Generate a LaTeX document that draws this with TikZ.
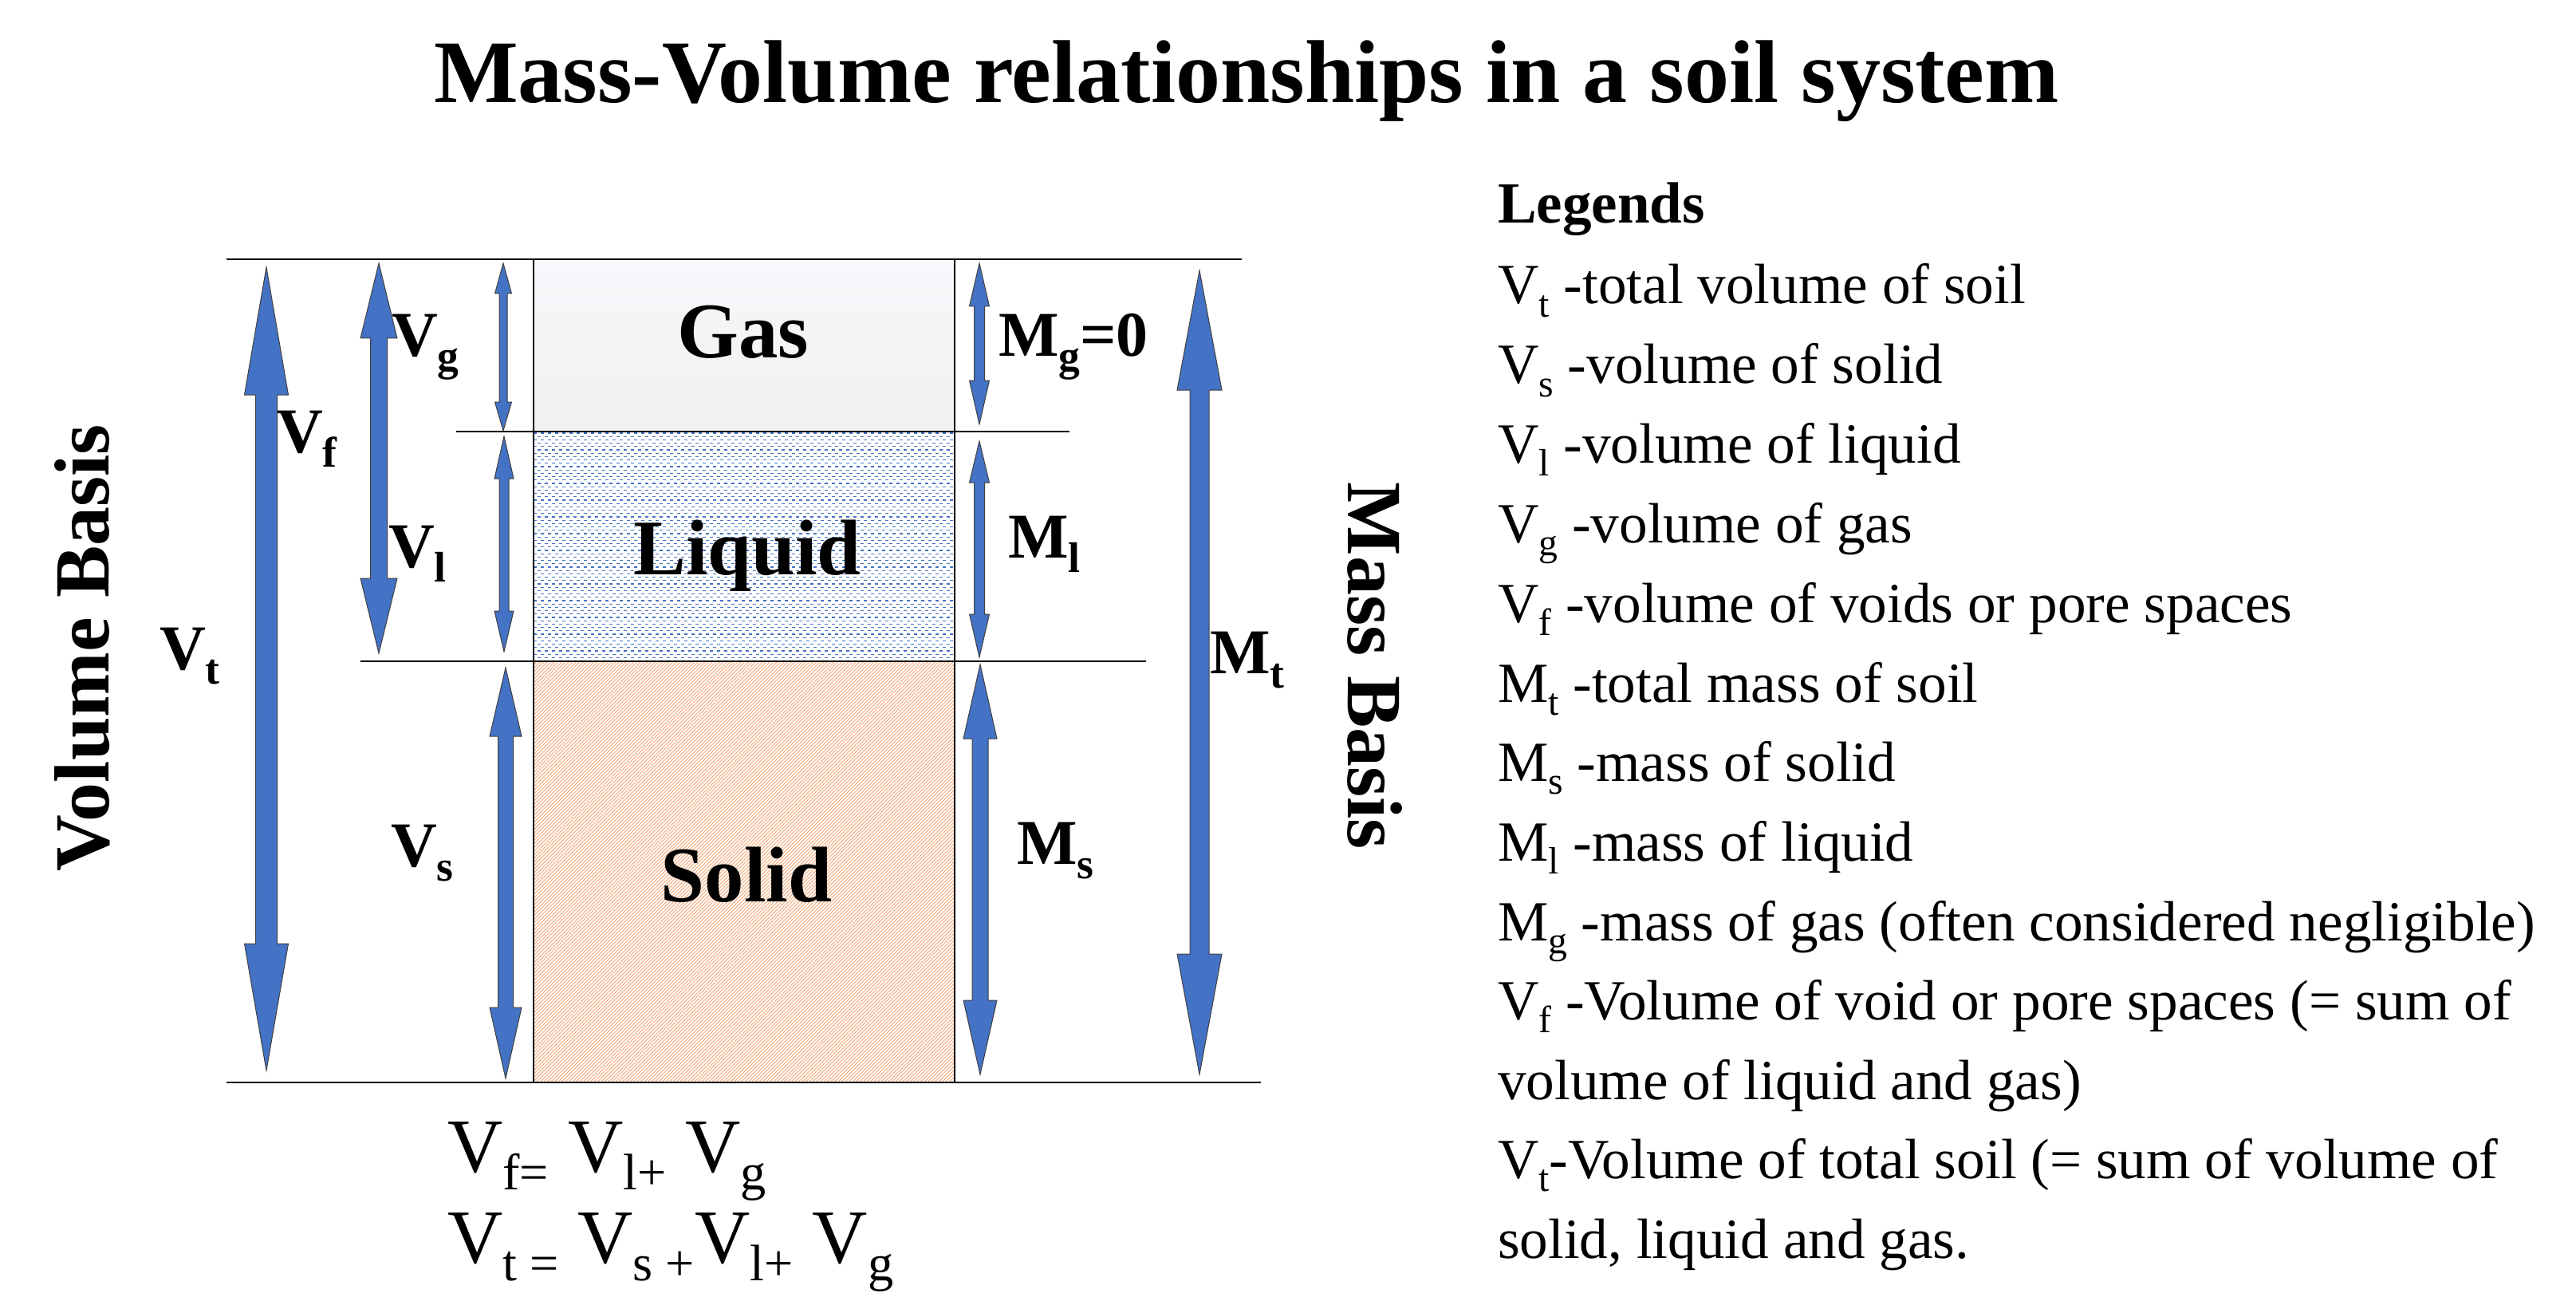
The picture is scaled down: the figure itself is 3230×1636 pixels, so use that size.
\documentclass[tikz,border=0pt]{standalone}
\usepackage{fontspec}
\usepackage{graphicx}
\setmainfont{Liberation Serif}
\definecolor{ablue}{HTML}{4472C4}
\definecolor{hatchc}{HTML}{F4B183}
\newcommand\sbs[1]{\raisebox{-0.23em}{\scalebox{0.67}{#1}}}
\newcommand\dimarr[7]{% x, ytop, ybot, toplen, botlen, headhalf, shafthalf
  \filldraw[arr] (#1,#2) -- ({#1+#6},{#2+#4}) -- ({#1+#7},{#2+#4}) -- ({#1+#7},{#3-#5}) -- ({#1+#6},{#3-#5}) -- (#1,#3) -- ({#1-#6},{#3-#5}) -- ({#1-#7},{#3-#5}) -- ({#1-#7},{#2+#4}) -- ({#1-#6},{#2+#4}) -- cycle;}
\begin{document}
\begin{tikzpicture}[x=0.25pt,y=-0.25pt,
  arr/.style={fill=ablue, draw=black!75, line width=0.25pt, line join=miter},
  sepline/.style={draw=black, line width=0.35pt},
  txt/.style={inner sep=0pt, outer sep=0pt},
  lbl/.style={txt, font=\fontsize{20}{24}\selectfont\bfseries, anchor=base west},
  phase/.style={txt, font=\fontsize{24.7}{30}\selectfont\bfseries, anchor=base},
  basis/.style={txt, font=\fontsize{24.5}{29}\selectfont\bfseries, anchor=base},
  formula/.style={txt, font=\fontsize{24}{29}\selectfont, anchor=base west},
  legitem/.style={txt, font=\fontsize{17.8}{21}\selectfont, anchor=base west}]
\useasboundingbox (0,0) rectangle (3230,1636);
% title
\node[txt, font=\fontsize{28}{34}\selectfont\bfseries, anchor=base] (title) at (1563,129) {Mass-Volume relationships in a soil system};
% gas region
\shade[top color={rgb,255:red,247;green,248;blue,251}, bottom color={rgb,255:red,240;green,240;blue,240}] (669,325) rectangle (1197,541);
% liquid region
\begin{scope}
  \clip (669,541) rectangle (1197,829);
  \foreach \i in {0,...,34} {
    \draw[ablue, line width=0.3pt, dash pattern=on 1.1pt off 1.15pt] (669,{543+8.4*\i}) -- (1197,{543+8.4*\i});
    \draw[ablue, line width=0.3pt, dash pattern=on 1.1pt off 1.15pt, dash phase=1.125pt] (669,{547.2+8.4*\i}) -- (1197,{547.2+8.4*\i});
  }
\end{scope}
% solid region
\begin{scope}
  \clip (669,829) rectangle (1197,1357);
  \foreach \i in {0,...,236} {
    \draw[hatchc, line width=0.26pt] ({141+\i*4.5},1357) -- ({669+\i*4.5},829);
  }
\end{scope}
\draw[black, line width=0.3pt] (669,325) rectangle (1197,1357);
\draw[black, line width=0.6pt] (669,325) rectangle (1197,541);
% horizontal lines
\draw[sepline] (284,325) -- (1557,325);
\draw[sepline] (572,541) -- (1341,541);
\draw[sepline] (452,829) -- (1437,829);
\draw[sepline] (284,1357) -- (1581,1357);
% phase labels
\node[phase] (gas) at (932,449) {Gas};
\node[phase] (liquid) at (937,720) {Liquid};
\node[phase] (solid) at (936,1130) {Solid};
% arrows: x, ytop, ybot, toplen, botlen, headhalf, shafthalf
\dimarr{334}{335}{1342}{160}{159}{27.5}{13.5}
\dimarr{475}{330}{819}{94}{94}{23}{10.5}
\dimarr{631}{330}{540}{38}{36}{10.5}{5}
\dimarr{632}{547}{817}{53}{51}{12}{6}
\dimarr{634}{837}{1352}{86}{89}{20}{9.5}
\dimarr{1228}{330}{532}{54}{55}{12.5}{6.5}
\dimarr{1228}{553}{824}{52}{54}{12.5}{6.5}
\dimarr{1229}{833}{1347}{93}{93}{21}{10}
\dimarr{1504}{339}{1347}{150}{151}{28}{12}
% dimension labels
\node[lbl] (vg) at (491,446) {V\sbs{g}};
\node[lbl] (vf) at (347,567) {V\sbs{f}};
\node[lbl] (vl) at (487,711) {V\sbs{l}};
\node[lbl] (vt) at (200,839) {V\sbs{t}};
\node[lbl] (vs) at (490,1086) {V\sbs{s}};
\node[lbl] (mg) at (1252,446) {M\sbs{g}=0};
\node[lbl] (ml) at (1264,699) {M\sbs{l}};
\node[lbl] (mt) at (1517,844) {M\sbs{t}};
\node[lbl] (ms) at (1275,1083) {M\sbs{s}};
% basis labels
\node[basis, rotate=90] (volbasis) at (136,812) {Volume Basis};
\node[basis, rotate=-90] (massbasis) at (1690,835) {Mass Basis};
% formulas
\node[formula] (f1) at (561,1469) {V\sbs{f=} V\sbs{l+} V\sbs{g}};
\node[formula] (f2) at (561,1583) {V\sbs{t =} V\sbs{s +}V\sbs{l+} V\sbs{g}};
% legend
\node[txt, font=\fontsize{18.25}{22}\selectfont\bfseries, anchor=base west] (leg) at (1878,280) {Legends};
\node[legitem] (l1) at (1878,381) {V\sbs{t} -total volume of soil};
\node[legitem] (l2) at (1878,481) {V\sbs{s} -volume of solid};
\node[legitem] (l3) at (1878,580) {V\sbs{l} -volume of liquid};
\node[legitem] (l4) at (1878,680) {V\sbs{g} -volume of gas};
\node[legitem] (l5) at (1878,780) {V\sbs{f} -volume of voids or pore spaces};
\node[legitem] (l6) at (1878,880) {M\sbs{t} -total mass of soil};
\node[legitem] (l7) at (1878,979) {M\sbs{s} -mass of solid};
\node[legitem] (l8) at (1878,1079) {M\sbs{l} -mass of liquid};
\node[legitem] (l9) at (1878,1179) {M\sbs{g} -mass of gas (often considered negligible)};
\node[legitem] (l10) at (1878,1278) {V\sbs{f} -Volume of void or pore spaces (= sum of};
\node[legitem] (l11) at (1878,1378) {volume of liquid and gas)};
\node[legitem] (l12) at (1878,1477) {V\sbs{t}-Volume of total soil (= sum of volume of};
\node[legitem] (l13) at (1878,1577) {solid, liquid and gas.};
\end{tikzpicture}
\end{document}
